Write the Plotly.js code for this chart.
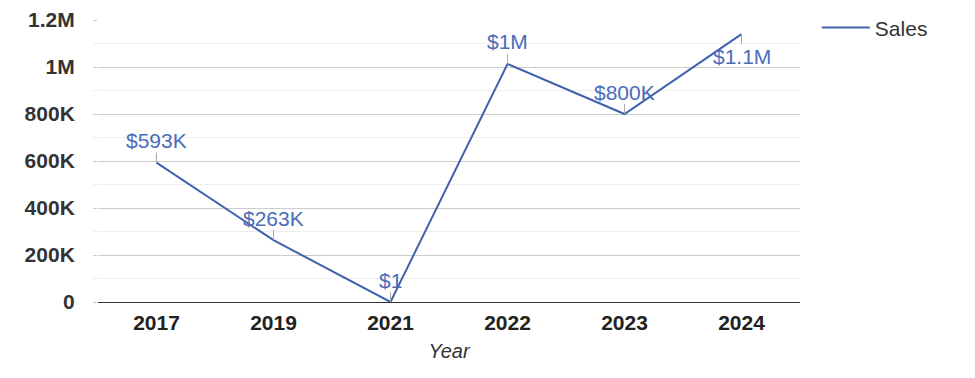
<!DOCTYPE html>
<html>
<head>
<meta charset="utf-8">
<script src="https://cdn.plot.ly/plotly-3.0.1.min.js"></script>
<style>html,body{margin:0;padding:0;background:#fff;}#chart{width:975px;height:378px;}</style>
</head>
<body>
<div id="chart"></div>
<script>
const years = ['2017', '2019', '2021', '2022', '2023', '2024'];
const sales = [593000, 263000, 1, 1013000, 800000, 1140000];
const labels = ['$593K', '$263K', '$1', '$1M', '$800K', '$1.1M'];
const labelBelow = [false, false, false, false, false, true];
const yTickVals = [0, 200000, 400000, 600000, 800000, 1000000, 1200000];
const yTickText = ['0', '200K', '400K', '600K', '800K', '1M', '1.2M'];

const lineColor = '#3f62ad';
const labelColor = '#4a6cba';
const font = 'Liberation Sans, Arial, sans-serif';

const annotations = years.map((yr, i) => ({
  x: i, y: sales[i], xref: 'x', yref: 'y',
  text: labels[i],
  showarrow: true, arrowhead: 0, arrowwidth: 1, arrowcolor: '#aaaaaa',
  ax: 0, ay: labelBelow[i] ? 22 : -22, standoff: 0, borderpad: 0,
  font: {family: font, size: 21, color: labelColor}
}));

const trace = {
  x: years, y: sales, type: 'scatter', mode: 'lines', name: 'Sales',
  line: {color: lineColor, width: 2}
};

const layout = {
  width: 975, height: 378,
  margin: {l: 98, r: 175, t: 20, b: 76, autoexpand: false},
  paper_bgcolor: '#fff', plot_bgcolor: '#fff',
  font: {family: font, color: '#333'},
  showlegend: true,
  legend: {x: 1.024, xanchor: 'left', y: 1.045, yanchor: 'top',
           font: {family: font, size: 21, color: '#333'}, itemwidth: 48, bgcolor: 'rgba(0,0,0,0)'},
  xaxis: {
    type: 'category', categoryarray: years, range: [-0.5, years.length - 0.5],
    showgrid: false, zeroline: false,
    showline: true, linecolor: '#333', linewidth: 1,
    ticks: '', ticklabelstandoff: 2,
    tickfont: {family: font, size: 21, color: '#222', weight: 'bold'},
    title: {text: 'Year', font: {family: font, size: 20, color: '#333', style: 'italic'}, standoff: 10}
  },
  yaxis: {
    range: [0, 1200000], tickvals: yTickVals, ticktext: yTickText,
    showgrid: true, gridcolor: '#cccccc', gridwidth: 1, zeroline: false, showline: false,
    ticks: 'outside', ticklen: 4, tickcolor: '#cccccc', ticklabelstandoff: 14,
    tickfont: {family: font, size: 21, color: '#333', weight: 'bold'},
    minor: {dtick: 100000, showgrid: true, gridcolor: '#eeeeee', ticks: 'outside', ticklen: 4, tickcolor: '#eeeeee'}
  },
  annotations: annotations
};

Plotly.newPlot('chart', [trace], layout, {displayModeBar: false, staticPlot: true});
</script>
</body>
</html>
